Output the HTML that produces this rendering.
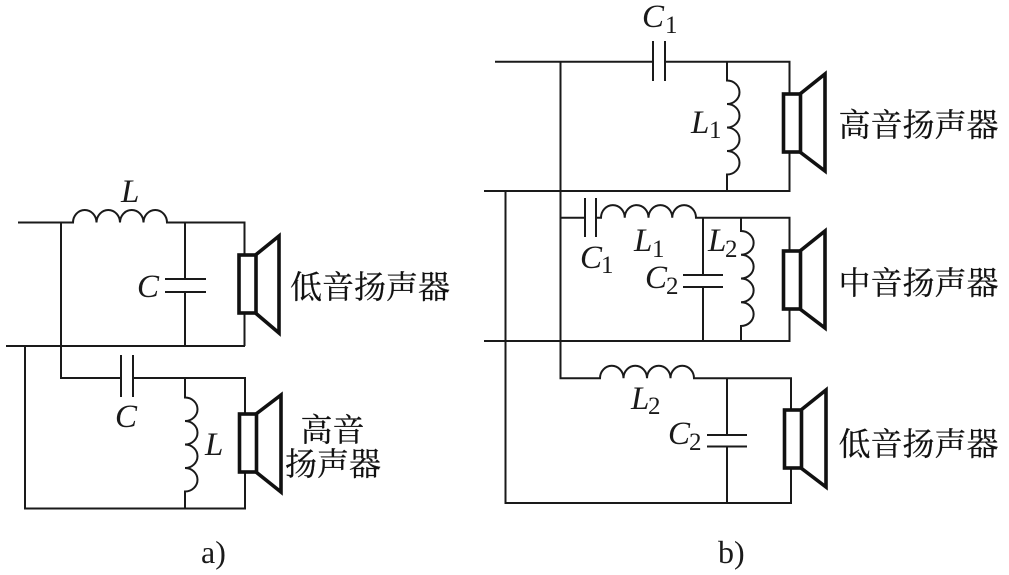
<!DOCTYPE html>
<html><head><meta charset="utf-8"><style>
html,body{margin:0;padding:0;background:#fff;width:1009px;height:575px;overflow:hidden}
svg{display:block}
.w{fill:none;stroke:#1a1a1a;stroke-width:2}
.s{fill:#fff;stroke:#111;stroke-width:3.6;stroke-linejoin:miter}
.cj{font-family:"Liberation Serif","Noto Serif CJK SC",serif;font-size:32px;fill:#111;stroke:#111;stroke-width:.25}
.i{font-family:"Liberation Serif",serif;font-style:italic;font-size:33px;fill:#1a1a1a}
.n{font-family:"Liberation Serif",serif;font-size:25px;fill:#1a1a1a}
.t{font-family:"Liberation Serif",serif;font-size:32px;fill:#1a1a1a}
</style></head><body>
<svg width="1009" height="575" viewBox="0 0 1009 575" xmlns="http://www.w3.org/2000/svg">
<!-- a) upper -->
<path class="w" d="M18 222.500H73a11.750 12.500 0 0 1 23.500 0a11.750 12.500 0 0 1 23.500 0a11.750 12.500 0 0 1 23.500 0a11.750 12.500 0 0 1 23.500 0H244.500V346"/>
<path class="w" d="M61 222.500V378H120M133 378H245V508.500H25V346M6 346H245"/>
<path class="w" d="M185 222.500V279M185 292V346M165 279H206M165 292H206"/>
<path class="w" d="M121 355V397M133 355V397"/>
<path class="w" d="M185 378V397.500a12.500 11.750 0 0 1 0 23.500a12.500 11.750 0 0 1 0 23.500a12.500 11.750 0 0 1 0 23.500a12.500 11.750 0 0 1 0 23.500V508.500"/>
<path class="s" d="M255.500 255L279 236V333L255.500 313Z"/><rect class="s" x="239" y="255" width="17" height="58"/>
<path class="s" d="M256 414L281 395V492L256 472Z"/><rect class="s" x="239.500" y="414" width="17" height="58"/>
<text class="i" x="121" y="202">L</text>
<text class="i" x="137" y="297">C</text>
<text class="i" x="115" y="427">C</text>
<text class="i" x="205" y="455">L</text>
<text class="cj" x="290" y="298">低音扬声器</text>
<text class="cj" x="300.500" y="441">高音</text>
<text class="cj" x="285" y="475">扬声器</text>
<text class="t" x="201" y="563">a)</text>
<!-- b) top -->
<path class="w" d="M495 61.700H653M665 61.700H789.500V191H484"/>
<path class="w" d="M653 41V81M665 41V81"/>
<path class="w" d="M560.500 61.700V378.300H600a11.750 12.500 0 0 1 23.500 0a11.750 12.500 0 0 1 23.500 0a11.750 12.500 0 0 1 23.500 0a11.750 12.500 0 0 1 23.500 0H791V503H505.500V191"/>
<path class="w" d="M727 61.700V80.500a12.500 11.750 0 0 1 0 23.500a12.500 11.750 0 0 1 0 23.500a12.500 11.750 0 0 1 0 23.500a12.500 11.750 0 0 1 0 23.500V191"/>
<!-- b) middle -->
<path class="w" d="M560.500 217.700H585M585 198V237M596 198V237M596 217.700H601a11.750 12.500 0 0 1 23.750 0a11.750 12.500 0 0 1 23.750 0a11.750 12.500 0 0 1 23.750 0a11.750 12.500 0 0 1 23.750 0H789.500V341H484"/>
<path class="w" d="M703 217.700V275M703 287V341M683 275H723M683 287H723"/>
<path class="w" d="M741 217.700V231a12.500 11.750 0 0 1 0 23.750a12.500 11.750 0 0 1 0 23.750a12.500 11.750 0 0 1 0 23.750a12.500 11.750 0 0 1 0 23.750V341"/>
<!-- b) low -->
<path class="w" d="M727 378.300V435M727 446.500V503M707 435H747M707 446.500H747"/>
<path class="s" d="M800 94L825 74V171L800 152Z"/><rect class="s" x="783.500" y="94" width="17" height="58"/>
<path class="s" d="M800 251L825 231V328L800 309Z"/><rect class="s" x="783.500" y="251" width="17" height="58"/>
<path class="s" d="M801 410L826 390V487L801 468Z"/><rect class="s" x="784.500" y="410" width="17" height="58"/>
<text class="i" x="642" y="27">C</text><text class="n" x="665" y="33">1</text>
<text class="i" x="691" y="133">L</text><text class="n" x="709" y="138">1</text>
<text class="i" x="580" y="268">C</text><text class="n" x="601" y="273">1</text>
<text class="i" x="634" y="251">L</text><text class="n" x="652" y="257">1</text>
<text class="i" x="708" y="251">L</text><text class="n" x="725" y="257">2</text>
<text class="i" x="645" y="288">C</text><text class="n" x="666" y="294">2</text>
<text class="i" x="631" y="409">L</text><text class="n" x="648" y="414">2</text>
<text class="i" x="668" y="444">C</text><text class="n" x="689" y="450">2</text>
<text class="cj" x="838.500" y="136">高音扬声器</text>
<text class="cj" x="838.500" y="294">中音扬声器</text>
<text class="cj" x="838.500" y="455">低音扬声器</text>
<text class="t" x="718" y="563">b)</text>
</svg>
</body></html>
